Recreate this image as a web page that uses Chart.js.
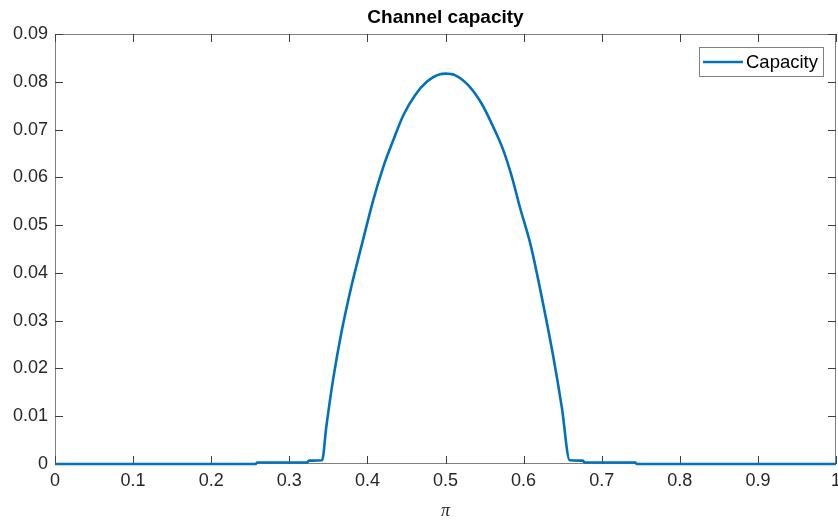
<!DOCTYPE html>
<html>
<head>
<meta charset="utf-8">
<script src="https://cdn.jsdelivr.net/npm/chart.js@4/dist/chart.umd.min.js"></script>
<style>
  html, body { margin: 0; padding: 0; background: #fff; }
  #wrap { width: 838px; height: 520px; }
</style>
</head>
<body>
<div id="wrap"><canvas id="chart"></canvas></div>
<script>
// values
const piValues = [
  0, 0.257, 0.259, 0.323, 0.325, 0.342, 0.3474, 0.356, 0.3666, 0.3794,
  0.3927, 0.4076, 0.4204, 0.4332, 0.446, 0.461, 0.476, 0.493, 0.5, 0.512,
  0.529, 0.546, 0.561, 0.574, 0.585, 0.595, 0.6095, 0.625, 0.638, 0.649,
  0.659, 0.676, 0.678, 0.743, 0.745, 1,
];
const capacity = [
  0, 0, 0.0003, 0.0003, 0.0007, 0.0008, 0.0078, 0.0176, 0.0274, 0.0371,
  0.0458, 0.0553, 0.0622, 0.0678, 0.073, 0.0772, 0.08, 0.0816, 0.0817, 0.0814,
  0.0793, 0.0755, 0.0706, 0.0657, 0.0601, 0.0539, 0.0455, 0.0335, 0.0225, 0.0118,
  0.0008, 0.0007, 0.0003, 0.0003, 0, 0,
];
const xTicks = [0, 0.1, 0.2, 0.3, 0.4, 0.5, 0.6, 0.7, 0.8, 0.9, 1];
const yTicks = [0, 0.01, 0.02, 0.03, 0.04, 0.05, 0.06, 0.07, 0.08, 0.09];

const fontFamily = "'Liberation Sans', Arial, sans-serif";
const lineColor = "#0072BD";

// MATLAB style box with inward ticks
const boxPlugin = {
  id: "box",
  beforeDatasetsDraw(chart) {
    const { ctx, chartArea: a, scales } = chart;
    ctx.save();
    ctx.strokeStyle = "#808080";
    ctx.lineWidth = 1;
    ctx.strokeRect(a.left + 0.5, a.top + 0.5, a.right - a.left - 1, a.bottom - a.top - 1);
    ctx.strokeStyle = "#404040";
    ctx.beginPath();
    scales.x.ticks.forEach((t) => {
      const px = Math.round(scales.x.getPixelForValue(t.value)) + 0.5;
      ctx.moveTo(px, a.bottom);
      ctx.lineTo(px, a.bottom - 8);
      ctx.moveTo(px, a.top);
      ctx.lineTo(px, a.top + 8);
    });
    scales.y.ticks.forEach((t) => {
      const py = Math.round(scales.y.getPixelForValue(t.value)) + 0.5;
      ctx.moveTo(a.left, py);
      ctx.lineTo(a.left + 8, py);
      ctx.moveTo(a.right, py);
      ctx.lineTo(a.right - 8, py);
    });
    ctx.stroke();
    ctx.restore();
  },
  afterDraw(chart) {
    const { ctx, chartArea: a } = chart;
    const ds = chart.data.datasets[0];
    const w = 124, h = 29;
    const x0 = a.right - 13 - w, y0 = a.top + 13;
    ctx.save();
    ctx.fillStyle = "#fff";
    ctx.fillRect(x0, y0, w, h);
    ctx.strokeStyle = "#808080";
    ctx.lineWidth = 1;
    ctx.strokeRect(x0 + 0.5, y0 + 0.5, w, h);
    ctx.strokeStyle = ds.borderColor;
    ctx.lineWidth = 2.5;
    ctx.beginPath();
    ctx.moveTo(x0 + 4, y0 + 15);
    ctx.lineTo(x0 + 44, y0 + 15);
    ctx.stroke();
    ctx.fillStyle = "#000";
    ctx.font = "18.5px " + fontFamily;
    ctx.textBaseline = "middle";
    ctx.fillText(ds.label, x0 + 47, y0 + 15.5);
    ctx.restore();
  },
};

new Chart(document.getElementById("chart"), {
  type: "scatter",
  data: {
    datasets: [
      {
        label: "Capacity",
        data: piValues.map((v, i) => ({ x: v, y: capacity[i] })),
        showLine: true,
        borderColor: lineColor,
        backgroundColor: lineColor,
        borderWidth: 2.6,
        borderJoinStyle: "round",
        pointRadius: 0,
        cubicInterpolationMode: "monotone",
        clip: 4,
      },
    ],
  },
  options: {
    responsive: true,
    maintainAspectRatio: false,
    animation: false,
    layout: { padding: { left: 0, right: 2, top: 0, bottom: 0 } },
    plugins: {
      legend: { display: false },
      tooltip: { enabled: false },
      title: {
        display: true,
        text: "Channel capacity",
        color: "#000",
        fullSize: false,
        font: { family: fontFamily, size: 19, weight: "bold", lineHeight: 1.2 },
        padding: { top: 6, bottom: 5.2 },
      },
    },
    scales: {
      x: {
        type: "linear",
        min: 0,
        max: 1,
        afterBuildTicks: (s) => { s.ticks = xTicks.map((v) => ({ value: v })); },
        afterFit: (s) => { s.height = 56; s.paddingLeft = 0; s.paddingRight = 0; },
        grid: { display: false, drawTicks: false },
        border: { display: false },
        ticks: {
          color: "#262626",
          padding: 6,
          maxRotation: 0,
          font: { family: fontFamily, size: 18 },
          callback: (v) => String(Math.round(v * 10) / 10),
        },
        title: {
          display: true,
          text: "π",
          color: "#262626",
          padding: { top: 6, bottom: -2 },
          font: { family: "'Liberation Serif', 'DejaVu Serif', serif", size: 18, style: "italic" },
        },
      },
      y: {
        min: 0,
        max: 0.09,
        afterBuildTicks: (s) => { s.ticks = yTicks.map((v) => ({ value: v })); },
        afterFit: (s) => { s.width = 55; s.paddingTop = 0; s.paddingBottom = 0; },
        grid: { display: false, drawTicks: false },
        border: { display: false },
        ticks: {
          color: "#262626",
          padding: 7,
          font: { family: fontFamily, size: 18 },
          callback: (v) => (v === 0 ? "0" : v.toFixed(2)),
        },
      },
    },
  },
  plugins: [boxPlugin],
});
</script>
</body>
</html>
